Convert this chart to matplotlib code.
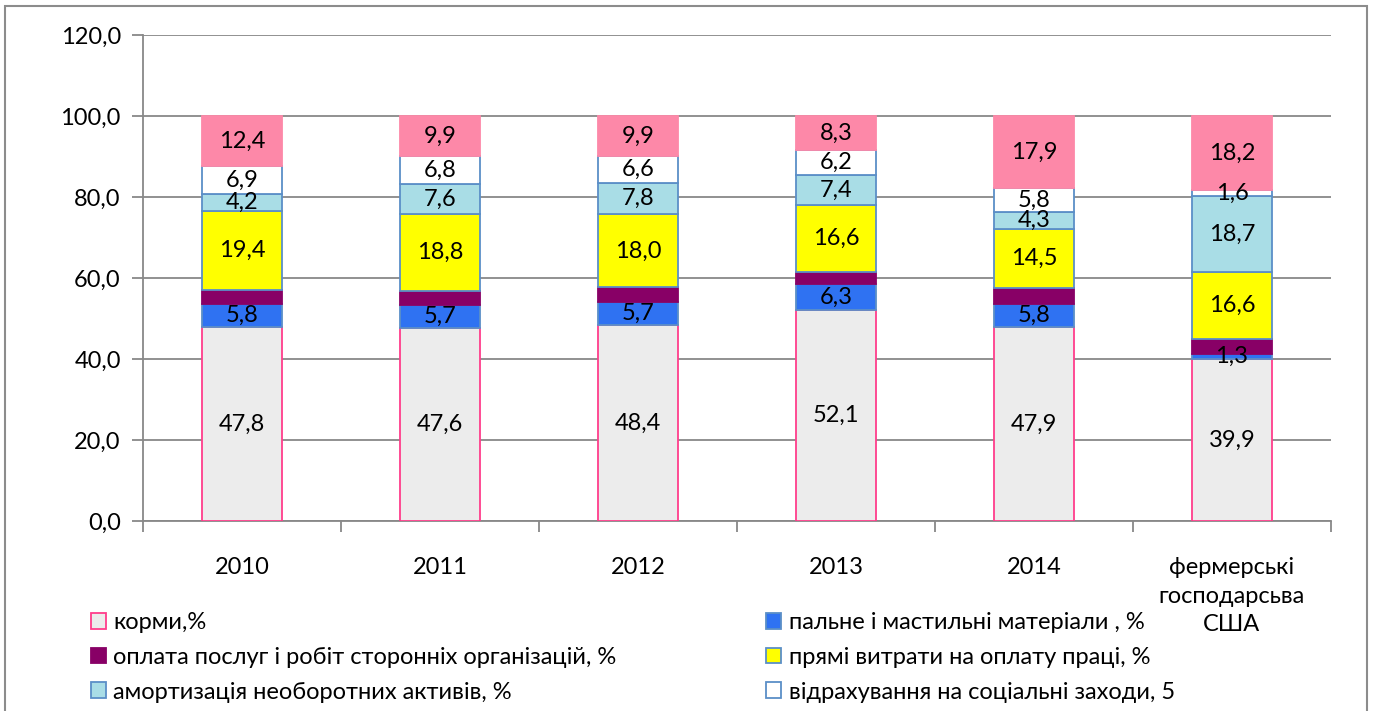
import matplotlib
matplotlib.use('Agg')
import matplotlib.pyplot as plt
from matplotlib.patches import Patch, Rectangle

plt.rcParams['font.family'] = ['Lato', 'DejaVu Sans']

# Categories and segment values (% of cost structure)
categories = ['2010', '2011', '2012', '2013', '2014', 'фермерські\nгосподарсьва\nСША']
feed = [47.8, 47.6, 48.4, 52.1, 47.9, 39.9]
fuel = [5.8, 5.7, 5.7, 6.3, 5.8, 1.3]
services = [3.5, 3.6, 3.6, 3.0, 3.8, 3.7]
labour = [19.4, 18.8, 18.0, 16.6, 14.5, 16.6]
depreciation = [4.2, 7.6, 7.8, 7.4, 4.3, 18.7]
social = [6.9, 6.8, 6.6, 6.2, 5.8, 1.6]
other = [12.4, 9.9, 9.9, 8.3, 17.9, 18.2]

names = ['корми,%', 'пальне і мастильні матеріали , %',
         'оплата послуг і робіт сторонніх організацій, %',
         'прямі витрати на оплату праці, %',
         'амортизація необоротних активів, %',
         'відрахування на соціальні заходи, 5', 'інші']

series = [feed, fuel, services, labour, depreciation, social, other]
faces = ['#ececec', '#2f72f2', '#880066', '#ffff00', '#a9dde6', '#ffffff', '#fd88a8']
edges = ['#ff3d8b', '#5b8fc7', '#880066', '#5b8fc7', '#5b8fc7', '#5b8fc7', '#fd88a8']
show_label = [True, True, False, True, True, True, True]

fs = 17

fig = plt.figure(figsize=(13.73, 7.11), dpi=100)
ax = fig.add_axes([0.1042, 0.2672, 0.8652, 0.6836])

x = list(range(len(categories)))
bottom = [0.0] * len(categories)
for vals, fc, ec, lab in zip(series, faces, edges, show_label):
    ax.bar(x, vals, width=0.404, bottom=bottom, color=fc, edgecolor=ec,
           linewidth=1.3, zorder=3)
    if lab:
        for xi, v, b0 in zip(x, vals, bottom):
            ax.text(xi, b0 + v / 2, '{:.1f}'.format(v).replace('.', ','),
                    ha='center', va='center', fontsize=fs, zorder=4)
    bottom = [b0 + v for b0, v in zip(bottom, vals)]

ax.set_xlim(-0.5, len(categories) - 0.5)
ax.set_ylim(0, 120)
ax.set_yticks(range(0, 121, 20))
ax.set_yticklabels(['{:.1f}'.format(v).replace('.', ',') for v in range(0, 121, 20)],
                   fontsize=fs)
ax.yaxis.grid(True, color='#888888', linewidth=1.3, zorder=0)
ax.set_axisbelow(True)

ax.set_xticks(x)
ax.set_xticklabels(categories, fontsize=fs, linespacing=1.45, va='top')
ax.set_xticks([i - 0.5 for i in range(len(categories) + 1)], minor=True)
ax.tick_params(axis='x', which='major', length=0, pad=26)
ax.tick_params(axis='x', which='minor', length=8, color='#888888', width=1.3)
ax.tick_params(axis='y', length=8, color='#888888', width=1.3, pad=8)

for s in ['top', 'right']:
    ax.spines[s].set_visible(False)
for s in ['left', 'bottom']:
    ax.spines[s].set_color('#888888')
    ax.spines[s].set_linewidth(1.3)

def handle(i):
    return Patch(facecolor=faces[i], edgecolor=edges[i], linewidth=1.3)

leg_kw = dict(loc='upper left', frameon=False, fontsize=fs, handlelength=0.65,
              handleheight=0.65, handletextpad=0.3, labelspacing=0.58,
              borderaxespad=0, borderpad=0)
fig.legend([handle(0), handle(2), handle(4)], [names[0], names[2], names[4]],
           bbox_to_anchor=(0.066, 0.139), **leg_kw)
fig.legend([handle(1), handle(3), handle(5)], [names[1], names[3], names[5]],
           bbox_to_anchor=(0.558, 0.139), **leg_kw)

# outer chart frame
fig.patches.append(Rectangle((5 / 1373, -0.01), 1362 / 1373, 1 - 6 / 711 + 0.01,
                             transform=fig.transFigure, fill=False,
                             edgecolor='#8c8c8c', linewidth=1.5))

plt.savefig('out.png', dpi=100)
